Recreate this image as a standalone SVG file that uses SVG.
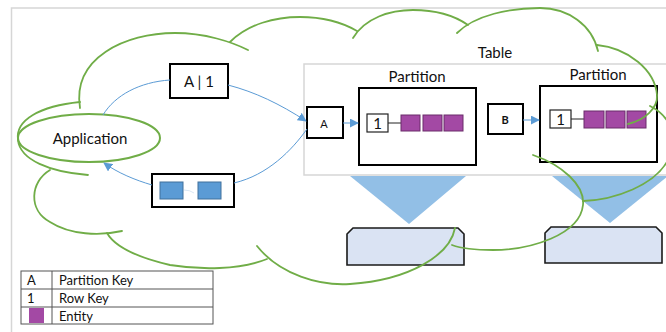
<svg xmlns="http://www.w3.org/2000/svg" width="666" height="332" viewBox="0 0 666 332">
<defs>
<style>
.frame{fill:none;stroke:#d6d6d6;stroke-width:1.5}
.box{fill:#fff;stroke:#000;stroke-width:2}
.thin{fill:#fff;stroke:#222;stroke-width:1.2}
.ent{fill:#a349a4;stroke:#6a2c6a;stroke-width:1}
.bsq{fill:#5b9bd5;stroke:#41719c;stroke-width:1}
.cloud{fill:none;stroke:#70ad47;stroke-width:1.8;stroke-linecap:round}
.conn{fill:none;stroke:#5b9bd5;stroke-width:1}
.tri{fill:#92bfe6}
.store{fill:#dae3f3;stroke:#1a1a1a;stroke-width:1.6}
.t{font-family:Lato,"Liberation Sans",sans-serif;fill:#111}
.lg{fill:none;stroke:#555;stroke-width:1}
</style>
<marker id="ah" viewBox="0 0 10 10" refX="9" refY="5" markerWidth="9" markerHeight="9" markerUnits="userSpaceOnUse" orient="auto">
<path d="M0,0 L10,5 L0,10 z" fill="#5b9bd5"/>
</marker>
<filter id="soft" x="-10%" y="-10%" width="120%" height="120%"><feGaussianBlur stdDeviation="0.7"/></filter>
</defs>

<rect class="frame" x="11.5" y="8" width="700" height="400"/>

<g id="table">
<rect class="frame" x="304" y="64" width="400" height="111"/>
<text class="t" x="495" y="58" font-size="15" text-anchor="middle">Table</text>
</g>

<g id="triangles">
<polygon class="tri" filter="url(#soft)" points="350,176 466,176 409,224"/>
<polygon class="tri" filter="url(#soft)" points="552,176 668,176 610,223"/>
</g>

<g id="store1">
<path class="store" d="M353,228 L458,228 L464,234 L464,265 L347,265 L347,234 Z"/>
</g>
<g id="store2">
<path class="store" d="M551,227 L656,227 L662,233 L662,263 L545,263 L545,233 Z"/>
</g>

<g id="partition1">
<text class="t" x="417" y="82" font-size="15" text-anchor="middle">Partition</text>
<rect class="box" x="359" y="88" width="117" height="77"/>
<rect class="thin" x="367" y="114" width="21" height="18"/>
<text class="t" x="377.5" y="129" font-size="15" text-anchor="middle">1</text>
<line x1="388" y1="123" x2="401" y2="123" stroke="#222" stroke-width="1"/>
<rect class="ent" x="401" y="115" width="19" height="16"/>
<rect class="ent" x="423" y="115" width="19" height="16"/>
<rect class="ent" x="444" y="115" width="19" height="16"/>
</g>

<g id="partition2">
<text class="t" x="598" y="80" font-size="15" text-anchor="middle">Partition</text>
<rect class="box" x="540" y="86" width="117" height="76"/>
<rect class="thin" x="550" y="110" width="21" height="18"/>
<text class="t" x="560.5" y="125" font-size="15" text-anchor="middle">1</text>
<line x1="571" y1="119" x2="584" y2="119" stroke="#222" stroke-width="1"/>
<rect class="ent" x="584" y="111" width="20" height="17"/>
<rect class="ent" x="606" y="111" width="19" height="17"/>
<rect class="ent" x="627" y="111" width="19" height="17"/>
</g>

<g id="keyA">
<rect class="box" x="307" y="107" width="36" height="31" stroke-width="1.8"/>
<text class="t" x="324" y="128" font-size="11" text-anchor="middle">A</text>
</g>

<g id="keyB">
<rect class="box" x="488" y="104" width="35" height="30" stroke-width="1.8"/>
<text class="t" x="505" y="124" font-size="11" font-weight="bold" text-anchor="middle">B</text>
</g>

<g id="query">
<rect class="box" x="170" y="64" width="58" height="34"/>
<text class="t" x="199" y="87" font-size="15" text-anchor="middle">A | 1</text>
</g>

<g id="result">
<rect class="box" x="152" y="174" width="82" height="33"/>
<rect class="bsq" x="160" y="182" width="23" height="17"/>
<rect class="bsq" x="198" y="182" width="23" height="17"/>
<path d="M184,190 Q190,190 194,193" fill="none" stroke="#cfdff0" stroke-width="0.8"/>
</g>

<g id="application">
<ellipse cx="89" cy="138" rx="71" ry="24" fill="none" stroke="#70ad47" stroke-width="2"/>
<text class="t" x="90" y="144" font-size="15" text-anchor="middle">Application</text>
</g>

<g id="connectors">
<path class="conn" d="M103,115 C115,95 140,82 170,80"/>
<path class="conn" d="M228,85 C255,92 280,104 306,121" marker-end="url(#ah)"/>
<path class="conn" d="M307,129 C292,150 268,175 234,183"/>
<path class="conn" d="M152,185 C135,180 118,173 104,163" marker-end="url(#ah)"/>
<path class="conn" d="M343,123 L358,123" stroke-width="1.5" marker-end="url(#ah)"/>
<path class="conn" d="M523,120 L539,120" stroke-width="1.5" marker-end="url(#ah)"/>
</g>

<g id="cloud">
<path class="cloud" d="M80,108 C72,58 125,33 175,33 C205,33 232,42 248,50"/>
<path class="cloud" d="M230,42 C248,24 275,17 300,17 C325,17 345,24 357,31"/>
<path class="cloud" d="M353,38 C365,18 390,10 413,10 C435,10 455,16 468,25"/>
<path class="cloud" d="M457,33 C475,15 510,8 540,8 C568,8 592,25 598,51"/>
<path class="cloud" d="M597,45 C628,48 655,70 657,95 C658,108 645,120 628,124"/>
<path class="cloud" d="M650,106 C670,116 682,140 668,160 C655,185 615,200 583,201"/>
<path class="cloud" d="M533,155 C562,165 585,185 583,205 C580,235 530,250 493,250 C475,250 460,248 452,245"/>
<path class="cloud" d="M257,246 C280,275 320,286 350,284 C410,280 450,255 455,228"/>
<path class="cloud" d="M267,259 C240,270 200,270 170,265 C140,258 115,247 107,233"/>
<path class="cloud" d="M50,170 C30,182 28,210 50,222 C70,235 100,236 122,231"/>
<path class="cloud" d="M80,102 C40,106 15,120 18,140 C20,160 50,172 88,175"/>
</g>

<g id="legend">
<rect class="lg" x="21" y="271" width="192" height="53"/>
<line class="lg" x1="21" y1="289" x2="213" y2="289"/>
<line class="lg" x1="21" y1="307" x2="213" y2="307"/>
<line class="lg" x1="52" y1="271" x2="52" y2="324"/>
<text class="t" x="27" y="285" font-size="13">A</text>
<text class="t" x="59" y="285" font-size="13">Partition Key</text>
<text class="t" x="27" y="303" font-size="13">1</text>
<text class="t" x="59" y="303" font-size="13">Row Key</text>
<rect x="29" y="308" width="15" height="15" fill="#a349a4"/>
<text class="t" x="59" y="321" font-size="13">Entity</text>
</g>
</svg>
